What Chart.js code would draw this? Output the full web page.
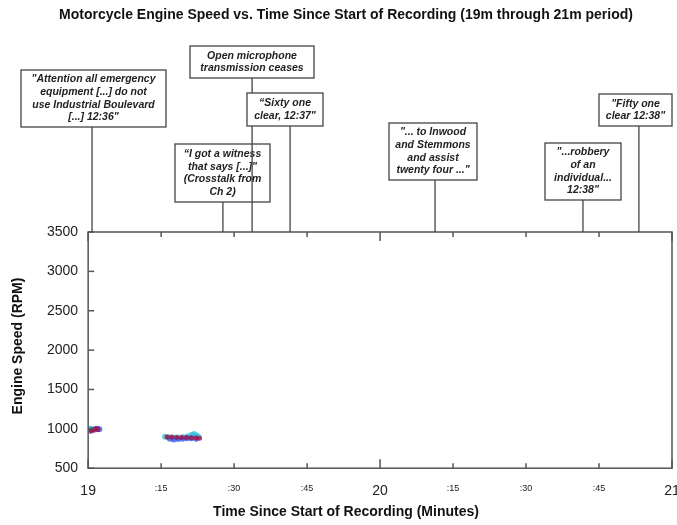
<!DOCTYPE html>
<html lang="en">
<head>
    <meta charset="UTF-8">
    <title>Motorcycle Engine Speed</title>
    <script src="https://cdn.jsdelivr.net/npm/chart.js"></script>
    <style>
        html, body { margin: 0; padding: 0; background: #fff; }
        #wrap { width: 677px; height: 525px; }
    </style>
</head>
<body>
    <div id="wrap"><canvas id="speedChart"></canvas></div>

    <script>
        // time in seconds since start of recording, engine speed in RPM
        const cyanTimes = [1140.0, 1140.4, 1140.8, 1155.8, 1156.5, 1157.5, 1158.5, 1159.5, 1160.5, 1161.3, 1161.8, 1162.3, 1162.7];
        const cyanRpm   = [1000, 1002, 996, 900, 895, 890, 890, 895, 905, 925, 935, 915, 895];
        const blueTimes = [1140.9, 1141.4, 1141.9, 1142.3, 1156.8, 1157.6, 1158.5, 1159.4, 1160.3, 1161.2, 1162.2];
        const blueRpm   = [985, 990, 1000, 995, 875, 865, 870, 875, 880, 880, 875];
        const redTimes  = [1140.5, 1141.0, 1141.6, 1142.0, 1156.2, 1157.2, 1158.2, 1159.2, 1160.2, 1161.2, 1162.2, 1162.9];
        const redRpm    = [970, 985, 1005, 990, 895, 895, 893, 890, 890, 888, 885, 880];

        const xTickLabels = ['19', ':15', ':30', ':45', '20', ':15', ':30', ':45', '21'];
        const yTicks = [500, 1000, 1500, 2000, 2500, 3000, 3500];

        // radio events: time of event (s) and the quoted text
        const eventTimes = [1140.8, 1167.7, 1173.7, 1181.5, 1211.3, 1241.7, 1253.2];
        const eventTexts = [
            ['"Attention all emergency', 'equipment [...] do not', 'use Industrial Boulevard', '[...] 12:36"'],
            ['\u201cI got a witness', 'that says [...]"', '(Crosstalk from', 'Ch 2)'],
            ['Open microphone', 'transmission ceases'],
            ['\u201cSixty one', 'clear, 12:37"'],
            ['"... to Inwood', 'and Stemmons', 'and assist', 'twenty four ..."'],
            ['"...robbery', 'of an', 'individual...', '12:38"'],
            ['"Fifty one', 'clear 12:38"']
        ];
        // box placement (left, top, width, height) in px
        const eventBoxes = [
            [21, 70, 145, 57],
            [175, 144, 95, 58],
            [190, 46, 124, 32],
            [247, 93, 76, 33],
            [389, 123, 88, 57],
            [545, 143, 76, 57],
            [599, 94, 73, 32]
        ];

        const FONT = '"Liberation Sans", Arial, sans-serif';
        const AXIS = '#555';

        function toPoints(xs, ys) {
            return xs.map((x, i) => ({ x: x, y: ys[i] }));
        }

        const framePlugin = {
            id: 'frame',
            afterDraw(chart) {
                const ctx = chart.ctx;
                const a = chart.chartArea;
                const xs = chart.scales.x;
                const ys = chart.scales.y;
                ctx.save();
                ctx.strokeStyle = AXIS;
                ctx.lineWidth = 1.5;
                ctx.strokeRect(a.left, a.top, a.right - a.left, a.bottom - a.top);

                // inward ticks, top and bottom
                for (let i = 0; i < xTickLabels.length; i++) {
                    const px = xs.getPixelForValue(1140 + i * 15);
                    const len = (i % 4 === 0) ? 9 : 5;
                    ctx.beginPath();
                    ctx.moveTo(px, a.bottom); ctx.lineTo(px, a.bottom - len);
                    ctx.moveTo(px, a.top); ctx.lineTo(px, a.top + len);
                    ctx.stroke();
                }
                yTicks.forEach(v => {
                    const py = ys.getPixelForValue(v);
                    ctx.beginPath();
                    ctx.moveTo(a.left, py); ctx.lineTo(a.left + 6, py);
                    ctx.stroke();
                });

                // titles
                ctx.fillStyle = '#111';
                ctx.textAlign = 'center';
                ctx.textBaseline = 'middle';
                ctx.font = 'bold 14px ' + FONT;
                ctx.fillText('Motorcycle Engine Speed vs. Time Since Start of Recording (19m through 21m period)', 346, 15);
                ctx.fillText('Time Since Start of Recording (Minutes)', 346, 512);
                ctx.save();
                ctx.translate(18, 346);
                ctx.rotate(-Math.PI / 2);
                ctx.fillText('Engine Speed (RPM)', 0, 0);
                ctx.restore();

                // event callouts
                ctx.font = 'italic bold 10.5px ' + FONT;
                eventTimes.forEach((t, i) => {
                    const b = eventBoxes[i];
                    const px = xs.getPixelForValue(t);
                    ctx.strokeStyle = '#444';
                    ctx.lineWidth = 1.3;
                    ctx.beginPath();
                    ctx.moveTo(px, b[1] + b[3]);
                    ctx.lineTo(px, a.top);
                    ctx.stroke();
                    ctx.fillStyle = '#fff';
                    ctx.fillRect(b[0], b[1], b[2], b[3]);
                    ctx.strokeRect(b[0], b[1], b[2], b[3]);
                    ctx.fillStyle = '#222';
                    const lines = eventTexts[i];
                    const lh = 12.6;
                    const y0 = b[1] + b[3] / 2 - (lines.length - 1) * lh / 2;
                    lines.forEach((ln, j) => {
                        ctx.fillText(ln, b[0] + b[2] / 2, y0 + j * lh);
                    });
                });
                ctx.restore();
            }
        };

        // Chart.js paints dataset 0 last, so the red trace goes first to sit on top
        const ctxSpeed = document.getElementById('speedChart').getContext('2d');
        new Chart(ctxSpeed, {
            type: 'scatter',
            data: {
                datasets: [
                    {
                        label: 'Channel C',
                        data: toPoints(redTimes, redRpm),
                        backgroundColor: 'rgba(165, 20, 70, 0.8)',
                        borderWidth: 0,
                        pointRadius: 2.5
                    },
                    {
                        label: 'Channel B',
                        data: toPoints(blueTimes, blueRpm),
                        backgroundColor: 'rgba(50, 80, 235, 0.75)',
                        borderWidth: 0,
                        pointRadius: 3
                    },
                    {
                        label: 'Channel A',
                        data: toPoints(cyanTimes, cyanRpm),
                        backgroundColor: 'rgba(40, 190, 215, 0.7)',
                        borderWidth: 0,
                        pointRadius: 3
                    }
                ]
            },
            options: {
                responsive: true,
                maintainAspectRatio: false,
                animation: false,
                layout: {
                    padding: { top: 232, right: 5, bottom: 10, left: 37 }
                },
                plugins: {
                    legend: { display: false },
                    tooltip: { enabled: false }
                },
                scales: {
                    x: {
                        type: 'linear',
                        min: 1140,
                        max: 1260,
                        grid: { display: false, drawTicks: false },
                        border: { display: false },
                        afterBuildTicks(scale) {
                            scale.ticks = xTickLabels.map((l, i) => ({ value: 1140 + i * 15 }));
                        },
                        afterFit(scale) {
                            scale.paddingLeft = 0;
                            scale.paddingRight = 0;
                        },
                        ticks: {
                            padding: 15,
                            maxRotation: 0,
                            autoSkip: false,
                            color: '#222',
                            font: c => (c.index % 4 === 0)
                                ? { family: FONT, size: 14 }
                                : { family: FONT, size: 9 },
                            callback: (v, i) => xTickLabels[i]
                        }
                    },
                    y: {
                        min: 500,
                        max: 3500,
                        grid: { display: false, drawTicks: false },
                        border: { display: false },
                        afterBuildTicks(scale) {
                            scale.ticks = yTicks.map(v => ({ value: v }));
                        },
                        afterFit(scale) {
                            scale.paddingTop = 0;
                            scale.paddingBottom = 0;
                        },
                        ticks: {
                            padding: 10,
                            color: '#222',
                            font: { family: FONT, size: 14 },
                            callback: v => String(v)
                        }
                    }
                }
            },
            plugins: [framePlugin]
        });
    </script>
</body>
</html>
